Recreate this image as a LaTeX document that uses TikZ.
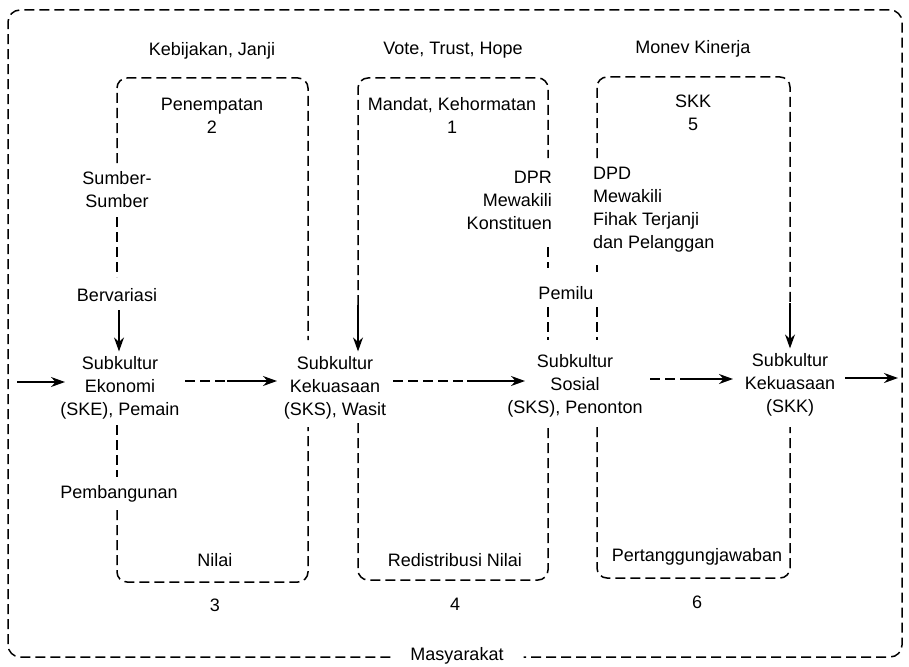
\documentclass[tikz,border=0pt]{standalone}
\usepackage{fontspec}
\setmainfont{Liberation Sans}
\usetikzlibrary{arrows.meta}
\begin{document}
\begin{tikzpicture}[x=1pt,y=-1pt,
  txt/.style={font=\fontsize{18}{23}\selectfont, inner sep=5pt, align=center},
  dsh/.style={line width=1.5pt, dash pattern=on 10pt off 5pt},
  arr/.style={line width=1.5pt, -{Stealth[length=14pt,width=10pt]}},
  frame/.style={dsh, rounded corners=10pt}]
\useasboundingbox (0,0) rectangle (909,666);

% main subculture nodes
\node[txt] (ske) at (120,388) {Subkultur\\Ekonomi\\(SKE), Pemain};
\node[txt] (sks) at (335,388) {Subkultur\\Kekuasaan\\(SKS), Wasit};
\node[txt] (sos) at (575,386) {Subkultur\\Sosial\\(SKS), Penonton};
\node[txt] (skk) at (790,385) {Subkultur\\Kekuasaan\\(SKK)};

% labels
\node[txt] (t1) at (212,51) {Kebijakan, Janji};
\node[txt] (t2) at (453,50) {Vote, Trust, Hope};
\node[txt] (t3) at (693,49) {Monev Kinerja};
\node[txt] (pen) at (212,116) {Penempatan\\2};
\node[txt] (man) at (452,115) {Mandat, Kehormatan\\1};
\node[txt] (sk5) at (693,113) {SKK\\5};
\node[txt] (sum) at (117,190) {Sumber-\\Sumber};
\node[txt] (ber) at (117,295) {Bervariasi};
\node[txt] (pem) at (119,494) {Pembangunan};
\node[txt, align=right, anchor=east] (dpr) at (557,200) {DPR\\Mewakili\\Konstituen};
\node[txt, align=left, anchor=west] (dpd) at (588,210) {DPD\\Mewakili\\Fihak Terjanji\\dan Pelanggan};
\node[txt] (pmu) at (566,293) {Pemilu};
\node[txt] (nil) at (215,560) {Nilai};
\node[txt] (red) at (455,560) {Redistribusi Nilai};
\node[txt] (ptj) at (697,557) {Pertanggungjawaban};
\node[txt] (n3) at (215,605) {3};
\node[txt] (n4) at (455,604) {4};
\node[txt] (n6) at (697,602) {6};
\node[txt, inner xsep=20pt] (mas) at (457,656) {Masyarakat};

% outer frame
\draw[dsh, rounded corners=12pt] (mas.west |- 0,657) -- (8,657) -- (8,10) -- (902,10) -- (902,657) -- (mas.east |- 0,657);

% box 2/3
\draw[frame] (117,163) -- (117,78) -- (308,78) -- (308,340);
\draw[dsh] (117,217) -- (117,277);
\draw[dsh] (117,425) -- (117,477);
\draw[frame] (117,510) -- (117,582) -- (308,582) -- (308,427);

% box 1/4
\coordinate (bB) at (358,305);
\draw[frame] (bB) -- (358,78) -- (548,78) -- (548,158);
\draw[dsh] (548,247) -- (548,268);
\draw[dsh] (548,307) -- (548,340);
\draw[frame] (358,423) -- (358,580) -- (548,580) -- (548,427);

% box 5/6
\coordinate (bC) at (790,303);
\draw[frame] (597,158) -- (597,77) -- (790,77) -- (bC);
\draw[dsh] (597,265) -- (597,272);
\draw[dsh] (597,307) -- (597,340);
\draw[frame] (597,427) -- (597,578) -- (790,578) -- (790,427);

% vertical arrows
\coordinate (vA) at (119,310);
\draw[arr] (vA) -- (vA |- ske.north);
\draw[arr] (bB) -- (bB |- sks.north);
\draw[arr] (bC) -- (bC |- skk.north);

% horizontal flow
\coordinate (h0) at (17,382);
\coordinate (h1) at (65,382);
\draw[arr] (h0) -- (h1);

\coordinate (p0) at (185,381);
\coordinate (p1) at (227,381);
\coordinate (p2) at (277,381);
\draw[dsh] (p0) -- (p1);
\draw[arr] (p1) -- (p2);

\coordinate (q0) at (393,381);
\coordinate (q1) at (467,381);
\coordinate (q2) at (525,381);
\draw[dsh] (q0) -- (q1);
\draw[arr] (q1) -- (q2);

\coordinate (r0) at (650,379);
\coordinate (r1) at (683,379);
\coordinate (r2) at (733,379);
\draw[dsh] (r0) -- (r1);
\draw[arr] (r1) -- (r2);

\coordinate (s0) at (845,378);
\coordinate (s1) at (898,378);
\draw[arr] (s0) -- (s1);
\end{tikzpicture}
\end{document}
